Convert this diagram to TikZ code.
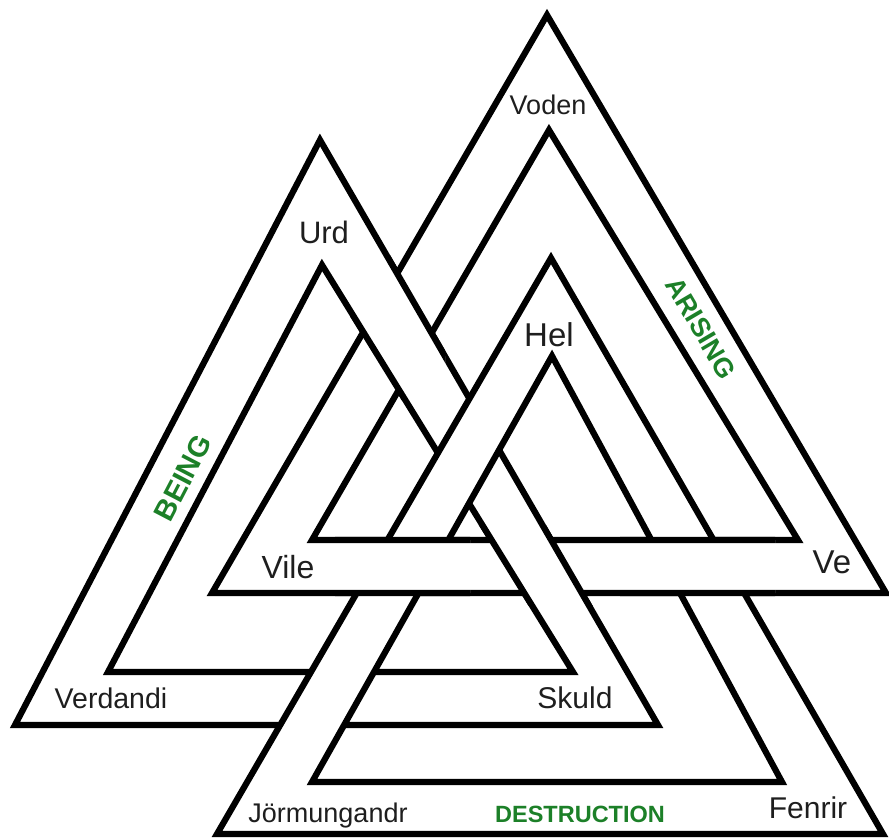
\documentclass[tikz,border=0pt]{standalone}
\usepackage{fontspec}
\setmainfont{Liberation Sans}
\definecolor{valgreen}{RGB}{28,128,40}
\definecolor{txtgray}{RGB}{30,30,30}
\begin{document}
\begin{tikzpicture}[x=1pt,y=-1pt,line join=miter,
  band/.style={fill=white,draw=black,line width=6.2pt,even odd rule},
  lbl/.style={anchor=base,text=txtgray,inner sep=0pt},
  word/.style={font=\bfseries,text=valgreen,inner sep=0pt}]
\useasboundingbox (0,0) rectangle (889,838);
\fill[white] (0,0) rectangle (889,838);
% triangle A (Being)
\coordinate (aT) at (320,140); \coordinate (aL) at (15,725); \coordinate (aR) at (658,725);
\coordinate (aiT) at (322,265); \coordinate (aiL) at (108,672); \coordinate (aiR) at (573,672);
% triangle B (Arising)
\coordinate (bT) at (547,15); \coordinate (bL) at (212,593); \coordinate (bR) at (886,593);
\coordinate (biT) at (549,130); \coordinate (biL) at (312,540); \coordinate (biR) at (798,540);
% triangle C (Destruction)
\coordinate (cT) at (551,258); \coordinate (cL) at (217,834); \coordinate (cR) at (883,834);
\coordinate (ciT) at (552,356); \coordinate (ciL) at (312,782); \coordinate (ciR) at (782,782);
\def\bandA{(aT)--(aL)--(aR)--cycle (aiT)--(aiL)--(aiR)--cycle}
\def\bandB{(bT)--(bL)--(bR)--cycle (biT)--(biL)--(biR)--cycle}
\def\bandC{(cT)--(cL)--(cR)--cycle (ciT)--(ciL)--(ciR)--cycle}
\path[band] \bandA;
\path[band] \bandB;
\path[band] \bandC;
% B over C
\begin{scope}\clip (335,515) rectangle (470,615); \path[band] \bandB; \end{scope}
\begin{scope}\clip (620,515) rectangle (775,615); \path[band] \bandB; \end{scope}
% A over B
\begin{scope}\clip (350,255) rectangle (445,400); \path[band] \bandA; \end{scope}
\begin{scope}\clip (478,525) rectangle (600,605); \path[band] \bandA; \end{scope}
% labels
\node[lbl,font=\fontsize{27}{31}\selectfont] (voden) at (548,114) {Voden};
\node[lbl,font=\fontsize{31}{36}\selectfont] (urd) at (324,243) {Urd};
\node[lbl,font=\fontsize{33}{38}\selectfont] (hel) at (549,346) {Hel};
\node[lbl,font=\fontsize{32}{37}\selectfont] (vile) at (288,578) {Vile};
\node[lbl,font=\fontsize{33}{38}\selectfont] (ve) at (832,573) {Ve};
\node[lbl,font=\fontsize{28.5}{33}\selectfont] (verdandi) at (111,708) {Verdandi};
\node[lbl,font=\fontsize{30}{35}\selectfont] (skuld) at (575,708) {Skuld};
\node[lbl,font=\fontsize{27}{32}\selectfont] (jorm) at (328,822) {Jörmungandr};
\node[lbl,font=\fontsize{30}{35}\selectfont] (fenrir) at (808,818) {Fenrir};
\node[word,anchor=base,font=\bfseries\fontsize{23.5}{28}\selectfont] (destr) at (580,822) {DESTRUCTION};
\node[word,rotate=62.5,font=\bfseries\fontsize{29}{34}\selectfont] (being) at (183,478) {BEING};
\node[word,rotate=-59.5,font=\bfseries\fontsize{27}{32}\selectfont] (arising) at (701,328) {ARISING};
\end{tikzpicture}
\end{document}
